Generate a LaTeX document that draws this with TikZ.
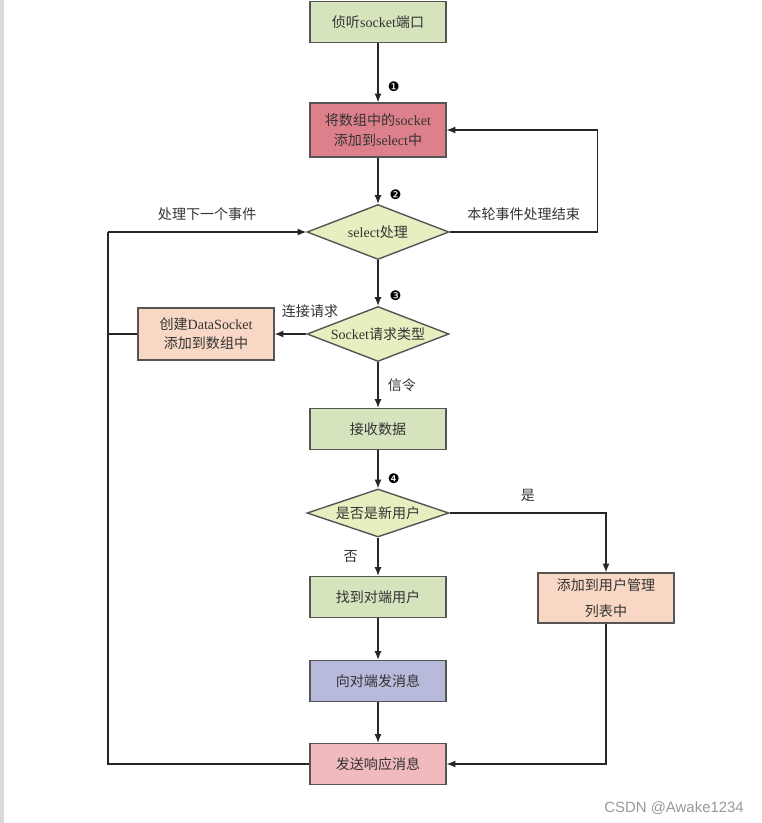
\documentclass[tikz,border=0pt]{standalone}
\usepackage{fontspec}
\setmainfont{Noto Sans CJK SC}
\newfontfamily\latin{Liberation Serif}
\newfontfamily\wmark{Liberation Sans}
\newfontfamily\sym{DejaVu Sans}
\usepackage{tikz}
\usetikzlibrary{arrows.meta}
\usetikzlibrary{shapes.geometric}

\definecolor{boxgreen}{HTML}{D6E4BE}
\definecolor{boxred}{HTML}{DE808C}
\definecolor{decide}{HTML}{E8EEC0}
\definecolor{peach}{HTML}{F8D8C4}
\definecolor{lavender}{HTML}{B8BADC}
\definecolor{rose}{HTML}{F0BABE}
\definecolor{edge}{HTML}{555555}

\begin{document}
\begin{tikzpicture}[x=0.02cm, y=-0.02cm,
    every node/.style={font=\fontsize{8}{11}\selectfont, text=black!80},
    proc/.style={draw=edge, line width=0.8pt, minimum width=2.72cm, minimum height=0.82cm, align=center, inner sep=1pt},
    decision/.style={draw=edge, line width=0.8pt, diamond, aspect=2.6, inner sep=0pt, minimum width=2.84cm, minimum height=1.1cm, fill=decide},
    arr/.style={semithick, draw=black!85, -{Latex[length=5pt, width=4pt]}},
    plainline/.style={semithick, draw=black!85},
    badge/.style={font=\sym\fontsize{7.5}{8}\selectfont, text=black}]
    \useasboundingbox (0, 0) rectangle (762, 823);
    \fill[gray!30] (0, 0) rectangle (4, 823);

    \node[proc, fill=boxgreen] (listen) at (378, 22) {侦听{\latin socket}端口};
    \node[proc, fill=boxred, minimum height=1.08cm] (fill) at (378, 130) {将数组中的{\latin socket}\\添加到{\latin select}中};
    \node[decision] (sel) at (378, 232) {{\latin select}处理};
    \node[decision] (kind) at (378, 334) {{\latin Socket}请求类型};
    \node[proc, fill=peach, minimum height=1.04cm] (create) at (206, 334) {创建{\latin DataSocket}\\添加到数组中};
    \node[proc, fill=boxgreen] (recv) at (378, 429) {接收数据};
    \node[decision, minimum height=0.96cm] (newq) at (378, 513) {是否是新用户};
    \node[proc, fill=boxgreen] (find) at (378, 597) {找到对端用户};
    \node[proc, fill=peach, minimum height=1.0cm] (addu) at (606, 598) {添加到用户管理\\[4pt]列表中};
    \node[proc, fill=lavender] (send) at (378, 681) {向对端发消息};
    \node[proc, fill=rose] (resp) at (378, 764) {发送响应消息};
    \coordinate (back) at (108, 232);

    \draw[arr] (listen) -- node[badge, pos=0.73, right=2pt] {❶} (fill);
    \draw[arr] (fill) -- node[badge, pos=0.8, right=3pt] {❷} (sel);
    \draw[arr] (sel.east) -- node[above=3pt] {本轮事件处理结束} ++(148, 0) |- (fill.east);
    \draw[arr] (sel) -- node[badge, pos=0.78, right=3pt] {❸} (kind);
    \draw[arr] (kind.west) -- (create.east);
    \node (conn) at (310, 311) {连接请求};
    \draw[arr] (kind) -- node[right=2pt] {信令} (recv);
    \draw[arr] (recv) -- node[badge, pos=0.75, right=2pt] {❹} (newq);
    \draw[arr] (newq.east) -- node[above=3pt] {是} (newq.east -| addu.north) -- (addu.north);
    \draw[arr] (newq) -- node[left=8pt] {否} (find);
    \draw[arr] (find) -- (send);
    \draw[arr] (send) -- (resp);
    \draw[arr] (addu.south) |- (resp.east);
    \draw[plainline] (resp.west) -| (back);
    \draw[arr] (back) -- node[above=3pt] {处理下一个事件} (sel.west);
    \draw[plainline] (create.west) -- (create.west -| back);

    \node[anchor=east, font=\wmark\fontsize{8.5}{10}\selectfont, text=gray!80] (wm) at (750, 808) {CSDN @Awake1234};
\end{tikzpicture}
\end{document}
